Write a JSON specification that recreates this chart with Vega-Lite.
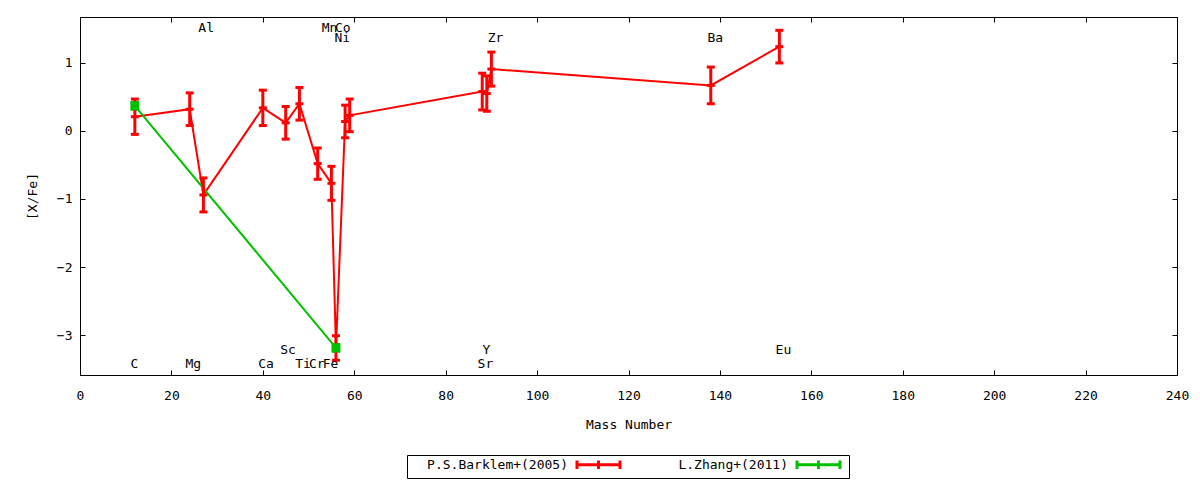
{
  "$schema": "https://vega.github.io/schema/vega-lite/v6.json",
  "width": 1097,
  "height": 358,
  "autosize": "none",
  "padding": {"left": 80, "top": 17, "right": 23, "bottom": 105},
  "background": "white",
  "config": {
    "font": "DejaVu Sans Mono",
    "view": {"stroke": "black", "strokeWidth": 1},
    "axis": {
      "domain": false,
      "grid": false,
      "tickColor": "black",
      "tickSize": -5,
      "labelColor": "black",
      "labelFont": "DejaVu Sans Mono",
      "labelFontSize": 13,
      "labelFlush": false,
      "titleFont": "DejaVu Sans Mono",
      "titleFontSize": 13,
      "titleFontWeight": "normal",
      "titleColor": "black"
    }
  },
  "datasets": {
    "abund": [
      {"source": "P.S.Barklem+(2005)", "el": "C", "mass": 12, "val": 0.21, "err": 0.26},
      {"source": "P.S.Barklem+(2005)", "el": "Mg", "mass": 24, "val": 0.32, "err": 0.24},
      {"source": "P.S.Barklem+(2005)", "el": "Al", "mass": 27, "val": -0.94, "err": 0.25},
      {"source": "P.S.Barklem+(2005)", "el": "Ca", "mass": 40, "val": 0.34, "err": 0.26},
      {"source": "P.S.Barklem+(2005)", "el": "Sc", "mass": 45, "val": 0.12, "err": 0.24},
      {"source": "P.S.Barklem+(2005)", "el": "Ti", "mass": 48, "val": 0.40, "err": 0.24},
      {"source": "P.S.Barklem+(2005)", "el": "Cr", "mass": 52, "val": -0.48, "err": 0.23},
      {"source": "P.S.Barklem+(2005)", "el": "Mn", "mass": 55, "val": -0.77, "err": 0.25},
      {"source": "P.S.Barklem+(2005)", "el": "Fe", "mass": 56, "val": -3.19, "err": 0.18},
      {"source": "P.S.Barklem+(2005)", "el": "Ni", "mass": 58, "val": 0.14, "err": 0.24},
      {"source": "P.S.Barklem+(2005)", "el": "Co", "mass": 59, "val": 0.23, "err": 0.24},
      {"source": "P.S.Barklem+(2005)", "el": "Sr", "mass": 88, "val": 0.58, "err": 0.27},
      {"source": "P.S.Barklem+(2005)", "el": "Y", "mass": 89, "val": 0.55, "err": 0.26},
      {"source": "P.S.Barklem+(2005)", "el": "Zr", "mass": 90, "val": 0.91, "err": 0.25},
      {"source": "P.S.Barklem+(2005)", "el": "Ba", "mass": 138, "val": 0.67, "err": 0.27},
      {"source": "P.S.Barklem+(2005)", "el": "Eu", "mass": 153, "val": 1.24, "err": 0.24},
      {"source": "L.Zhang+(2011)", "el": "C", "mass": 12, "val": 0.37, "err": 0.05},
      {"source": "L.Zhang+(2011)", "el": "Fe", "mass": 56, "val": -3.19, "err": 0.05}
    ],
    "labels": [
      {"el": "Al", "mass": 27.6, "val": 1.52},
      {"el": "Mn", "mass": 54.6, "val": 1.52},
      {"el": "Co", "mass": 57.5, "val": 1.52},
      {"el": "Ni", "mass": 57.4, "val": 1.37},
      {"el": "Zr", "mass": 90.9, "val": 1.37},
      {"el": "Ba", "mass": 139.0, "val": 1.37},
      {"el": "Sc", "mass": 45.5, "val": -3.22},
      {"el": "Y", "mass": 88.9, "val": -3.22},
      {"el": "Eu", "mass": 153.9, "val": -3.22},
      {"el": "C", "mass": 11.9, "val": -3.43},
      {"el": "Mg", "mass": 24.8, "val": -3.43},
      {"el": "Ca", "mass": 40.7, "val": -3.43},
      {"el": "Ti", "mass": 48.8, "val": -3.43},
      {"el": "Cr", "mass": 51.8, "val": -3.43},
      {"el": "Fe", "mass": 54.8, "val": -3.43},
      {"el": "Sr", "mass": 88.7, "val": -3.43}
    ]
  },
  "layer": [
    {
      "data": {"name": "abund"},
      "mark": {"type": "line", "strokeWidth": 2},
      "encoding": {
        "x": {
          "field": "mass", "type": "quantitative",
          "scale": {"domain": [0, 240], "nice": false, "zero": false},
          "axis": {"orient": "bottom", "values": [0, 20, 40, 60, 80, 100, 120, 140, 160, 180, 200, 220, 240], "title": "Mass Number", "labelPadding": 19, "titlePadding": 16}
        },
        "y": {
          "field": "val", "type": "quantitative",
          "scale": {"domain": [-3.588, 1.676], "nice": false, "zero": false},
          "axis": {"orient": "left", "values": [-3, -2, -1, 0, 1], "title": "[X/Fe]", "labelPadding": 13, "titlePadding": 17}
        },
        "color": {
          "field": "source", "type": "nominal",
          "scale": {"domain": ["P.S.Barklem+(2005)", "L.Zhang+(2011)"], "range": ["#ff0000", "#00c000"]},
          "legend": {
            "title": null,
            "orient": "none",
            "legendX": 327,
            "legendY": 438,
            "direction": "horizontal",
            "columns": 2,
            "symbolType": "M32.1,0H40.7M32.1,-0.85V0.85M40.7,-0.85V0.85M36.4,-0.85V0.85",
            "symbolSize": 100,
            "symbolStrokeWidth": 3,
            "symbolOpacity": 1,
            "labelAlign": "right",
            "labelOffset": 145,
            "labelFont": "DejaVu Sans Mono",
            "labelFontSize": 13,
            "labelColor": "black",
            "labelLimit": 400,
            "columnPadding": 4,
            "strokeColor": "black",
            "padding": 3
          }
        }
      }
    },
    {
      "data": {"name": "abund"},
      "mark": {"type": "errorbar", "opacity": 1, "ticks": {"size": 8, "thickness": 3}, "rule": {"strokeWidth": 3}},
      "encoding": {
        "x": {"field": "mass", "type": "quantitative", "scale": {"domain": [0, 240], "nice": false, "zero": false}, "axis": null},
        "y": {"field": "val", "type": "quantitative", "scale": {"domain": [-3.588, 1.676], "nice": false, "zero": false}, "axis": null},
        "yError": {"field": "err"},
        "color": {"field": "source", "type": "nominal", "scale": {"domain": ["P.S.Barklem+(2005)", "L.Zhang+(2011)"], "range": ["#ff0000", "#00c000"]}}
      }
    },
    {
      "data": {"name": "abund"},
      "transform": [{"filter": "datum.source === 'P.S.Barklem+(2005)'"}],
      "mark": {"type": "tick", "orient": "horizontal", "size": 8, "thickness": 3, "color": "#ff0000", "opacity": 1},
      "encoding": {
        "x": {"field": "mass", "type": "quantitative", "scale": {"domain": [0, 240], "nice": false, "zero": false}, "axis": null},
        "y": {"field": "val", "type": "quantitative", "scale": {"domain": [-3.588, 1.676], "nice": false, "zero": false}, "axis": null}
      }
    },
    {
      "data": {"name": "abund"},
      "transform": [{"filter": "datum.source === 'L.Zhang+(2011)'"}],
      "mark": {"type": "point", "shape": "square", "filled": true, "size": 81, "color": "#00c000", "opacity": 1},
      "encoding": {
        "x": {"field": "mass", "type": "quantitative", "scale": {"domain": [0, 240], "nice": false, "zero": false}, "axis": null},
        "y": {"field": "val", "type": "quantitative", "scale": {"domain": [-3.588, 1.676], "nice": false, "zero": false}, "axis": null}
      }
    },
    {
      "data": {"name": "labels"},
      "mark": {"type": "text", "font": "DejaVu Sans Mono", "fontSize": 13, "color": "black", "align": "center", "baseline": "middle"},
      "encoding": {
        "x": {"field": "mass", "type": "quantitative", "scale": {"domain": [0, 240], "nice": false, "zero": false}, "axis": null},
        "y": {"field": "val", "type": "quantitative", "scale": {"domain": [-3.588, 1.676], "nice": false, "zero": false}, "axis": null},
        "text": {"field": "el"}
      }
    },
    {
      "data": {"name": "labels"},
      "mark": {"type": "point", "opacity": 0},
      "encoding": {
        "x": {
          "field": "mass", "type": "quantitative",
          "scale": {"domain": [0, 240], "nice": false, "zero": false},
          "axis": {"orient": "top", "values": [0, 20, 40, 60, 80, 100, 120, 140, 160, 180, 200, 220, 240], "labels": false, "title": null}
        },
        "y": {
          "field": "val", "type": "quantitative",
          "scale": {"domain": [-3.588, 1.676], "nice": false, "zero": false},
          "axis": {"orient": "right", "values": [-3, -2, -1, 0, 1], "labels": false, "title": null}
        }
      }
    }
  ],
  "resolve": {"axis": {"x": "independent", "y": "independent"}}
}
